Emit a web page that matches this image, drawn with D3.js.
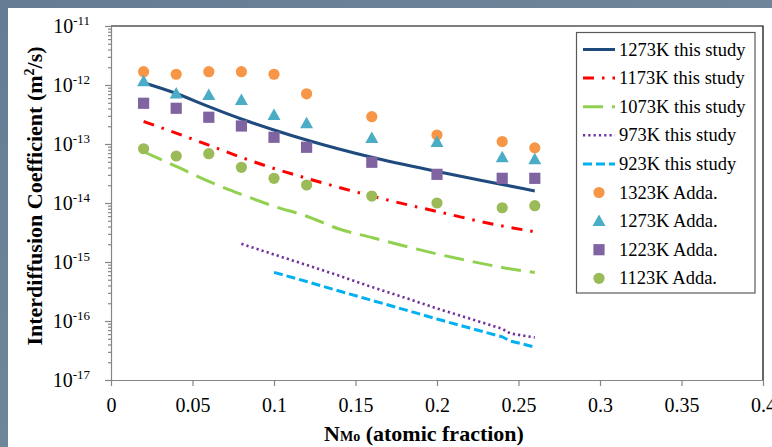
<!DOCTYPE html>
<html><head><meta charset="utf-8">
<script src="https://cdn.jsdelivr.net/npm/d3@7"></script>
<style>html,body{margin:0;padding:0;background:#fff;} svg{display:block;}</style>
</head><body>
<svg id="chart" width="772" height="447"></svg>
<script>
// ---- data ----
const addaN = [0.02, 0.04, 0.06, 0.08, 0.10, 0.12, 0.16, 0.20, 0.24, 0.26];
const adda1323 = [1.68e-12, 1.52e-12, 1.68e-12, 1.68e-12, 1.52e-12, 7.1e-13, 2.9e-13, 1.42e-13, 1.1e-13, 8.6e-14];
const adda1273 = [1.16e-12, 7.2e-13, 6.8e-13, 5.57e-13, 3.1e-13, 2.24e-13, 1.26e-13, 1.08e-13, 5.95e-14, 5.5e-14];
const adda1223 = [4.9e-13, 4.03e-13, 2.84e-13, 2.02e-13, 1.3e-13, 8.8e-14, 4.9e-14, 3.06e-14, 2.62e-14, 2.62e-14];
const adda1123 = [8.3e-14, 6.26e-14, 6.85e-14, 4.03e-14, 2.62e-14, 2.02e-14, 1.31e-14, 1.0e-14, 8.3e-15, 9.0e-15];

const study1273N = [0.02, 0.04, 0.06, 0.08, 0.10, 0.12, 0.16, 0.20, 0.24, 0.26];
const study1273 = [1.09e-12, 7.18e-13, 4.29e-13, 2.65e-13, 1.73e-13, 1.17e-13, 5.95e-14, 3.42e-14, 2.06e-14, 1.6e-14];
const study1173N = [0.02, 0.04, 0.06, 0.08, 0.10, 0.12, 0.16, 0.20, 0.24, 0.26];
const study1173 = [2.41e-13, 1.53e-13, 9.55e-14, 5.93e-14, 3.85e-14, 2.63e-14, 1.31e-14, 7.18e-15, 4.07e-15, 3.26e-15];
const study1073N = [0.02, 0.04, 0.06, 0.08, 0.10, 0.12, 0.14, 0.16, 0.18, 0.20, 0.22, 0.24, 0.26];
const study1073 = [7.4e-14, 4.17e-14, 2.32e-14, 1.40e-14, 8.83e-15, 5.97e-15, 3.62e-15, 2.60e-15, 1.87e-15, 1.37e-15, 1.04e-15, 8.07e-16, 6.64e-16];
const study973N = [0.08, 0.10, 0.12, 0.14, 0.16, 0.18, 0.20, 0.22, 0.24, 0.245, 0.26];
const study973 = [2.03e-15, 1.34e-15, 8.9e-16, 5.86e-16, 3.77e-16, 2.5e-16, 1.63e-16, 1.10e-16, 7.38e-17, 6.14e-17, 5.25e-17];
const study923N = [0.10, 0.12, 0.14, 0.16, 0.18, 0.20, 0.22, 0.24, 0.245, 0.26];
const study923 = [6.68e-16, 4.67e-16, 3.22e-16, 2.24e-16, 1.56e-16, 1.08e-16, 7.6e-17, 5.4e-17, 4.58e-17, 3.62e-17];

const xTicks = [0, 0.05, 0.1, 0.15, 0.2, 0.25, 0.3, 0.35, 0.4];
const xTickLabels = ["0", "0.05", "0.1", "0.15", "0.2", "0.25", "0.3", "0.35", "0.4"];
const yExponents = [-11, -12, -13, -14, -15, -16, -17];

const lineSeries = [
  {name: "1273K this study", n: study1273N, v: study1273, color: "#1F4A7E", dash: null, w: 3, curve: true},
  {name: "1173K this study", n: study1173N, v: study1173, color: "#FF0000", dash: "11,8,2.5,8", w: 3, curve: true},
  {name: "1073K this study", n: study1073N, v: study1073, color: "#92D050", dash: "20,9", w: 3, curve: true},
  {name: "973K this study", n: study973N, v: study973, color: "#7030A0", dash: "2.2,3.1", w: 2.6, curve: false},
  {name: "923K this study", n: study923N, v: study923, color: "#00B0F0", dash: "9,4", w: 3, curve: false}
];
const markerSeries = [
  {name: "1323K Adda.", v: adda1323, color: "#F79646", shape: "circle"},
  {name: "1273K Adda.", v: adda1273, color: "#4BACC6", shape: "triangle"},
  {name: "1223K Adda.", v: adda1223, color: "#8064A2", shape: "square"},
  {name: "1123K Adda.", v: adda1123, color: "#9BBB59", shape: "circle"}
];

// ---- layout ----
const svg = d3.select("#chart");
const L = 111, R = 763, T = 26, B = 380;
const x = d3.scaleLinear().domain([0, 0.4]).range([L, R]);
const y = d3.scaleLog().domain([1e-17, 1e-11]).range([B, T]);
const serif = "'Liberation Serif','Times New Roman',serif";

// background
const defs = svg.append("defs");
const grad = defs.append("linearGradient").attr("id", "bg").attr("x1", "0").attr("y1", "0").attr("x2", "1").attr("y2", "1");
grad.append("stop").attr("offset", "0").attr("stop-color", "#667C95");
grad.append("stop").attr("offset", "0.5").attr("stop-color", "#6F8598");
grad.append("stop").attr("offset", "1").attr("stop-color", "#5C6A8E");
svg.append("rect").attr("width", 772).attr("height", 447).attr("fill", "url(#bg)");
svg.append("rect").attr("x", 8).attr("y", 8).attr("width", 764).attr("height", 439).attr("fill", "#fff");

// plot border top/right
svg.append("path").attr("d", `M${L},${T}H${R}V${B}`).attr("fill", "none").attr("stroke", "#000").attr("stroke-width", 1.2);

// y axis
const majors = yExponents.map(e => Math.pow(10, e));
const minors = [];
for (let e = -17; e < -11; e++) for (let k = 2; k <= 9; k++) minors.push(k * Math.pow(10, e));
const gy = svg.append("g").attr("transform", `translate(${L},0)`);
gy.call(d3.axisLeft(y).tickValues(majors).tickSize(6).tickFormat(""));
const gym = svg.append("g").attr("transform", `translate(${L},0)`);
gym.call(d3.axisLeft(y).tickValues(minors).tickSize(3).tickFormat(""));
gym.select(".domain").remove();
[gy, gym].forEach(g => { g.selectAll("path,line").attr("stroke", "#868686").attr("stroke-width", 1.2); });

yExponents.forEach(e => {
  const t = svg.append("text").attr("x", 90).attr("y", y(Math.pow(10, e)) + 7)
    .attr("text-anchor", "end").attr("font-family", serif).attr("fill", "#000");
  t.append("tspan").attr("font-size", 20).text("10");
  t.append("tspan").attr("font-size", 13).attr("dy", -8).text(String(e));
});

// x axis
const gx = svg.append("g").attr("transform", `translate(0,${B})`);
gx.call(d3.axisBottom(x).tickValues(xTicks).tickSize(6).tickFormat((d, i) => xTickLabels[i]).tickPadding(8));
gx.select(".domain").attr("d", `M${L - 5},0.5H${R}`);
gx.selectAll("path,line").attr("stroke", "#868686").attr("stroke-width", 1.2);
gx.selectAll("text").attr("font-family", serif).attr("font-size", 20).attr("fill", "#000").attr("dy", "0.9em");

// titles
const xt = svg.append("text").attr("x", 424).attr("y", 441).attr("text-anchor", "middle")
  .attr("font-family", serif).attr("font-weight", "bold").attr("font-size", 22).attr("fill", "#000");
xt.append("tspan").text("N");
xt.append("tspan").attr("font-size", 14).text("Mo");
xt.append("tspan").text(" (atomic fraction)");

const yt = svg.append("text").attr("transform", "translate(42,196) rotate(-90)").attr("text-anchor", "middle")
  .attr("font-family", serif).attr("font-weight", "bold").attr("font-size", 22).attr("fill", "#000");
yt.append("tspan").text("Interdiffusion Coefficient (m");
yt.append("tspan").attr("font-size", 14).attr("dy", -8).text("2");
yt.append("tspan").attr("dy", 8).text("/s)");

// lines
lineSeries.forEach(s => {
  const pts = s.n.map((n, i) => [n, s.v[i]]);
  const gen = d3.line().x(d => x(d[0])).y(d => y(d[1])).curve(s.curve ? d3.curveMonotoneX : d3.curveLinear);
  svg.append("path").attr("d", gen(pts)).attr("fill", "none").attr("stroke", s.color)
    .attr("stroke-width", s.w).attr("stroke-dasharray", s.dash);
});

// markers
function drawMarker(g, shape, cx, cy, color) {
  if (shape === "circle") g.append("circle").attr("cx", cx).attr("cy", cy).attr("r", 5.6).attr("fill", color);
  else if (shape === "square") g.append("rect").attr("x", cx - 5.6).attr("y", cy - 5.6).attr("width", 11.2).attr("height", 11.2).attr("fill", color);
  else g.append("path").attr("d", `M${cx},${cy - 6.5}L${cx + 6.5},${cy + 5}L${cx - 6.5},${cy + 5}Z`).attr("fill", color);
}
const gm = svg.append("g");
markerSeries.forEach(s => {
  s.v.forEach((v, i) => drawMarker(gm, s.shape, x(addaN[i]), y(v), s.color));
});

// legend
const lg = svg.append("g");
lg.append("rect").attr("x", 576.5).attr("y", 32.5).attr("width", 178.5).attr("height", 260.5)
  .attr("fill", "#fff").attr("stroke", "#595959").attr("stroke-width", 1.2);
const rowY = i => 49.5 + i * 28.6;
lineSeries.forEach((s, i) => {
  lg.append("line").attr("x1", 583).attr("x2", 615).attr("y1", rowY(i)).attr("y2", rowY(i))
    .attr("stroke", s.color).attr("stroke-width", s.w).attr("stroke-dasharray", s.dash);
  lg.append("text").attr("x", 619).attr("y", rowY(i) + 6).attr("font-family", serif).attr("font-size", 18.5).text(s.name);
});
markerSeries.forEach((s, j) => {
  const i = j + 5;
  drawMarker(lg, s.shape, 599, rowY(i), s.color);
  lg.append("text").attr("x", 619).attr("y", rowY(i) + 6).attr("font-family", serif).attr("font-size", 18.5).text(s.name);
});
</script>
</body></html>
